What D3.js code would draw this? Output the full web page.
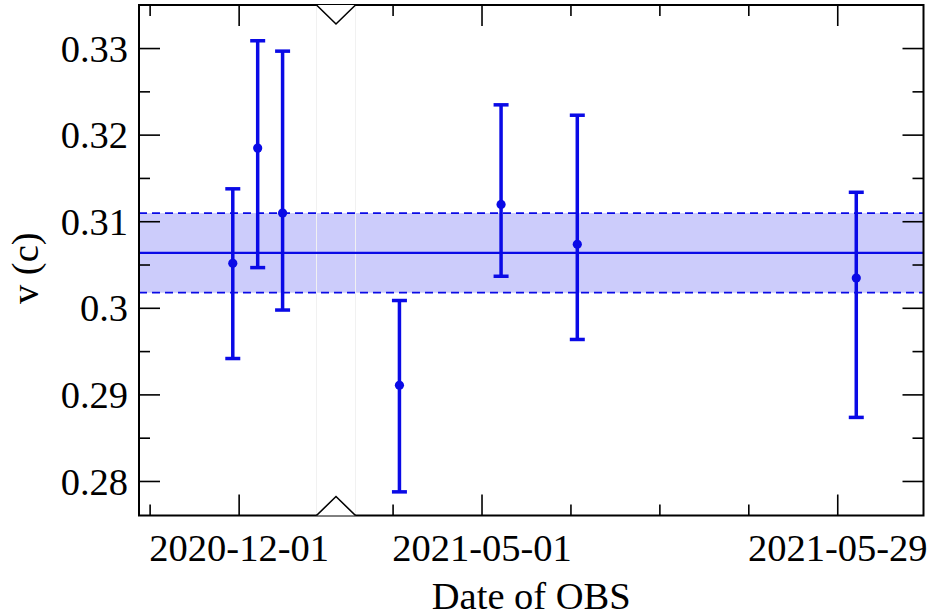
<!DOCTYPE html>
<html>
<head>
<meta charset="utf-8">
<script src="https://cdn.jsdelivr.net/npm/d3@7"></script>
<style>
  html, body { margin: 0; padding: 0; background: #fff; }
  svg { display: block; }
  text { font-family: "Liberation Serif", "DejaVu Serif", serif; fill: #000; }
</style>
</head>
<body>
<svg id="chart" width="927" height="616"></svg>
<script>
// ---------------- data ----------------
const obsDates = ["2020-11-30T12:00", "2020-12-02T11:00", "2020-12-04T10:00",
                  "2021-04-24T12:00", "2021-05-02T12:00", "2021-05-08T12:00", "2021-05-30T11:00"];
const velocity = [0.3052, 0.3185, 0.3110, 0.2911, 0.3120, 0.3074, 0.3035];
const velLower = [0.2942, 0.3047, 0.2998, 0.2788, 0.3037, 0.2964, 0.2874];
const velUpper = [0.3138, 0.3309, 0.3297, 0.3009, 0.3235, 0.3223, 0.3134];

const meanVelocity = 0.3064;
const bandLower = 0.3018;
const bandUpper = 0.3110;

const yTickValues = [0.28, 0.29, 0.30, 0.31, 0.32, 0.33];
const yTickLabels = ["0.28", "0.29", "0.3", "0.31", "0.32", "0.33"];
const yMinorValues = [0.285, 0.295, 0.305, 0.315, 0.325];

const xMajorTicks = ["2020-12-01", "2021-05-01", "2021-05-29"];
const xMinorTicks = ["2020-11-24", "2021-04-24", "2021-05-08", "2021-05-15", "2021-05-22"];

// broken x axis: two date segments
const leftSegment = ["2020-11-23T03:00", "2020-12-07T02:00"];
const rightSegment = ["2021-04-21T01:00", "2021-06-04T18:00"];

const xTitle = "Date of OBS";
const yTitle = "v (c)";

// ---------------- layout ----------------
const L = 139, R = 923.5, T = 5, B = 515.5;
const gapL = 316.5, gapR = 355.5;
const blue = "#0a0ae6";
const fs = 38.5;

const parse = s => new Date(s + (s.length === 10 ? "T00:00:00Z" : ":00Z"));

const xLeft = d3.scaleUtc().domain(leftSegment.map(parse)).range([L, gapL]);
const xRight = d3.scaleUtc().domain(rightSegment.map(parse)).range([gapR, R]);
const leftEnd = parse(leftSegment[1]);
const x = d => (d <= leftEnd ? xLeft(d) : xRight(d));

const y = d3.scaleLinear().domain([0.27607, 0.33503]).range([B, T]);

const svg = d3.select("#chart");

const data = obsDates.map((s, i) => ({
  date: parse(s), v: velocity[i], lo: velLower[i], hi: velUpper[i]
}));

// band
svg.append("rect")
  .attr("x", L).attr("width", R - L)
  .attr("y", y(bandUpper)).attr("height", y(bandLower) - y(bandUpper))
  .attr("fill", "#ccccfb");

// faint break-gap lines
[gapL, gapR].forEach(gx => {
  svg.append("line").attr("x1", gx).attr("x2", gx).attr("y1", T).attr("y2", B)
    .attr("stroke", "#f1f1f1").attr("stroke-width", 1);
});

// dashed band edges
[bandUpper, bandLower].forEach(v => {
  svg.append("line")
    .attr("x1", L).attr("x2", R).attr("y1", y(v)).attr("y2", y(v))
    .attr("stroke", blue).attr("stroke-width", 1.8)
    .attr("stroke-dasharray", "8,5");
});

// mean line
svg.append("line")
  .attr("x1", L).attr("x2", R).attr("y1", y(meanVelocity)).attr("y2", y(meanVelocity))
  .attr("stroke", blue).attr("stroke-width", 2.4);

// error bars
const eb = svg.append("g");
data.forEach(d => {
  const cx = x(d.date);
  eb.append("line").attr("x1", cx).attr("x2", cx).attr("y1", y(d.lo)).attr("y2", y(d.hi))
    .attr("stroke", blue).attr("stroke-width", 3.5);
  [d.lo, d.hi].forEach(v => {
    eb.append("line").attr("x1", cx - 7.5).attr("x2", cx + 7.5).attr("y1", y(v)).attr("y2", y(v))
      .attr("stroke", blue).attr("stroke-width", 3.5);
  });
  eb.append("circle").attr("cx", cx).attr("cy", y(d.v)).attr("r", 4.6).attr("fill", blue);
});

// frame
svg.append("rect")
  .attr("x", L).attr("y", T).attr("width", R - L).attr("height", B - T)
  .attr("fill", "none").attr("stroke", "#000").attr("stroke-width", 2);

// y ticks (left and right)
const tk = svg.append("g").attr("stroke", "#000").attr("stroke-width", 1.6);
yTickValues.forEach(v => {
  tk.append("line").attr("x1", L).attr("x2", L + 21).attr("y1", y(v)).attr("y2", y(v));
  tk.append("line").attr("x1", R).attr("x2", R - 21).attr("y1", y(v)).attr("y2", y(v));
});
yMinorValues.forEach(v => {
  tk.append("line").attr("x1", L).attr("x2", L + 11).attr("y1", y(v)).attr("y2", y(v));
  tk.append("line").attr("x1", R).attr("x2", R - 11).attr("y1", y(v)).attr("y2", y(v));
});
// x ticks (bottom and top)
xMajorTicks.map(parse).forEach(d => {
  const px = x(d);
  tk.append("line").attr("x1", px).attr("x2", px).attr("y1", B).attr("y2", B - 21);
  tk.append("line").attr("x1", px).attr("x2", px).attr("y1", T).attr("y2", T + 21);
});
xMinorTicks.map(parse).forEach(d => {
  const px = x(d);
  tk.append("line").attr("x1", px).attr("x2", px).attr("y1", B).attr("y2", B - 11);
  tk.append("line").attr("x1", px).attr("x2", px).attr("y1", T).attr("y2", T + 11);
});

// break marks
const mid = (gapL + gapR) / 2;
svg.append("path")
  .attr("d", `M${gapL},${T} L${mid},${T + 19} L${gapR},${T}`)
  .attr("fill", "#fff").attr("stroke", "#000").attr("stroke-width", 1.6);
svg.append("path")
  .attr("d", `M${gapL},${B} L${mid},${B - 19} L${gapR},${B}`)
  .attr("fill", "#fff").attr("stroke", "#000").attr("stroke-width", 1.6);

// y tick labels
yTickValues.forEach((v, i) => {
  svg.append("text")
    .attr("x", L - 11).attr("y", y(v)).attr("dy", "0.34em")
    .attr("text-anchor", "end").attr("font-size", fs)
    .text(yTickLabels[i]);
});
// x tick labels
xMajorTicks.forEach(s => {
  svg.append("text")
    .attr("x", x(parse(s))).attr("y", B + 45)
    .attr("text-anchor", "middle").attr("font-size", fs)
    .text(s);
});

// titles
svg.append("text")
  .attr("x", (L + R) / 2).attr("y", 609)
  .attr("text-anchor", "middle").attr("font-size", fs)
  .text(xTitle);
svg.append("text")
  .attr("transform", `translate(38,${(T + B) / 2 + 8}) rotate(-90)`)
  .attr("text-anchor", "middle").attr("font-size", fs)
  .text(yTitle);
</script>
</body>
</html>
